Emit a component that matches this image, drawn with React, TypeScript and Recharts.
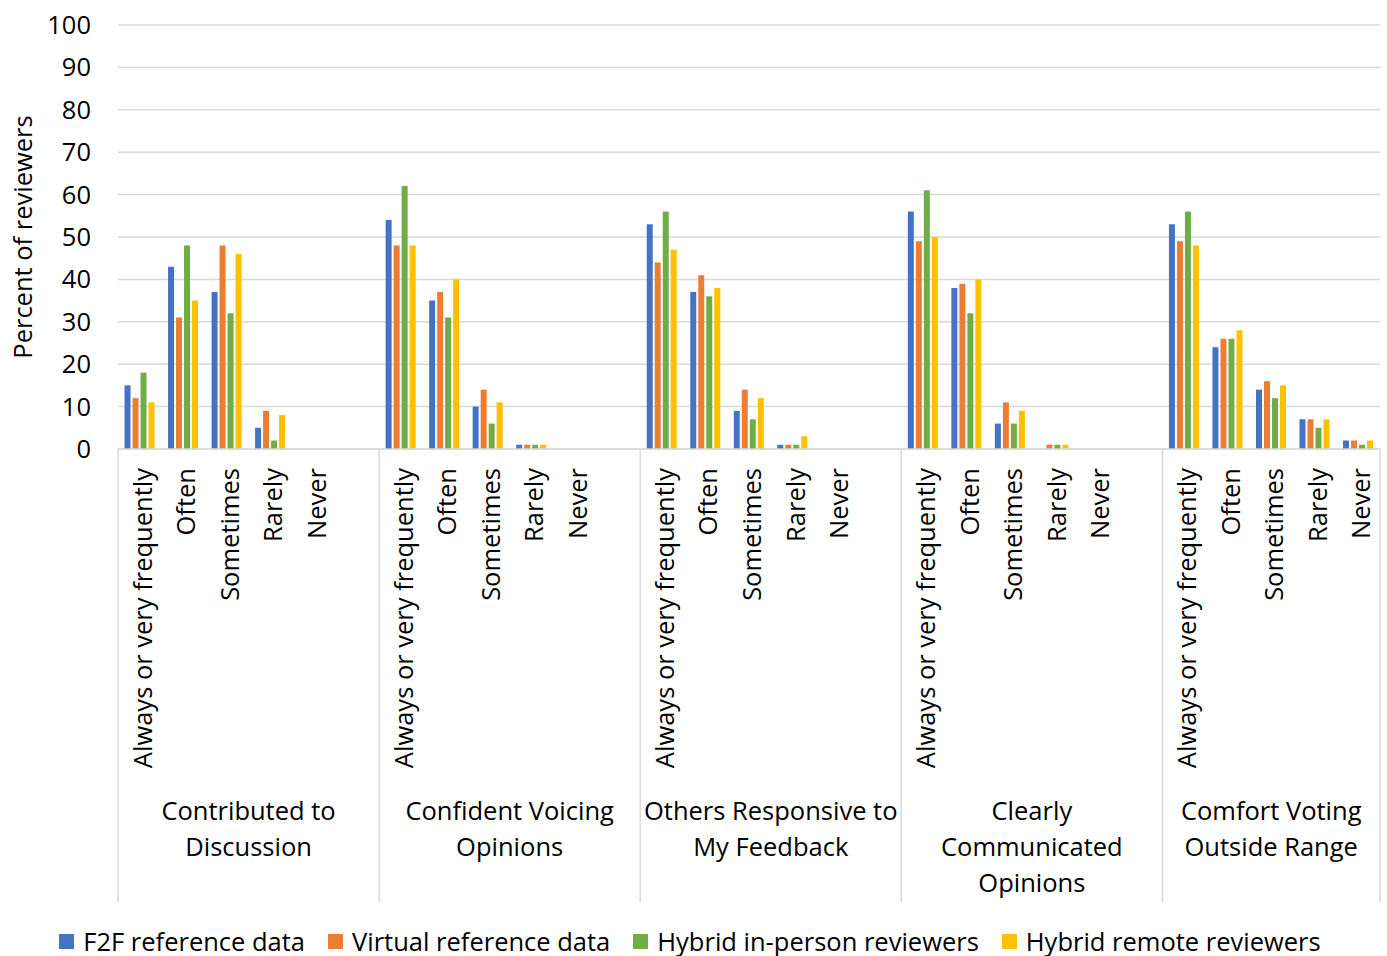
import { Bar, BarChart, CartesianGrid, Legend, XAxis, YAxis } from "recharts";

const GROUPS = [
  ["Contributed to", "Discussion"],
  ["Confident Voicing", "Opinions"],
  ["Others Responsive to", "My Feedback"],
  ["Clearly", "Communicated", "Opinions"],
  ["Comfort Voting", "Outside Range"],
];

const RESPONSES = ["Always or very frequently", "Often", "Sometimes", "Rarely", "Never"];

// one inner array per group, in RESPONSES order
const F2F = [
  [15, 43, 37, 5, 0],
  [54, 35, 10, 1, 0],
  [53, 37, 9, 1, 0],
  [56, 38, 6, 0, 0],
  [53, 24, 14, 7, 2],
];
const VIRTUAL = [
  [12, 31, 48, 9, 0],
  [48, 37, 14, 1, 0],
  [44, 41, 14, 1, 0],
  [49, 39, 11, 1, 0],
  [49, 26, 16, 7, 2],
];
const HYBRID_IN = [
  [18, 48, 32, 2, 0],
  [62, 31, 6, 1, 0],
  [56, 36, 7, 1, 0],
  [61, 32, 6, 1, 0],
  [56, 26, 12, 5, 1],
];
const HYBRID_REMOTE = [
  [11, 35, 46, 8, 0],
  [48, 40, 11, 1, 0],
  [47, 38, 12, 3, 0],
  [50, 40, 9, 1, 0],
  [48, 28, 15, 7, 2],
];

const Y_TICKS = [0, 10, 20, 30, 40, 50, 60, 70, 80, 90, 100];

const SERIES = [
  { key: "f2f", name: "F2F reference data", color: "#4472C4" },
  { key: "virtual", name: "Virtual reference data", color: "#ED7D31" },
  { key: "hybridIn", name: "Hybrid in-person reviewers", color: "#70AD47" },
  { key: "hybridRemote", name: "Hybrid remote reviewers", color: "#FFC000" },
];

interface Row {
  cat: string;
  group: number;
  pos: number;
  f2f?: number;
  virtual?: number;
  hybridIn?: number;
  hybridRemote?: number;
}

// Excel-style multi-level axis: a blank slot closes every group but the last
const rows: Row[] = [];
GROUPS.forEach((_, g) => {
  RESPONSES.forEach((cat, r) => {
    rows.push({
      cat,
      group: g,
      pos: r,
      f2f: F2F[g][r],
      virtual: VIRTUAL[g][r],
      hybridIn: HYBRID_IN[g][r],
      hybridRemote: HYBRID_REMOTE[g][r],
    });
  });
  if (g < GROUPS.length - 1) rows.push({ cat: "", group: g, pos: 5 });
});

const FONT = "'Open Sans', Lato, sans-serif";
const FS = 25.5;
const WIDTH = 1387;
const HEIGHT = 956;
const PLOT_LEFT = 118;
const PLOT_RIGHT = 1380;
const BAND = (PLOT_RIGHT - PLOT_LEFT) / rows.length;
const GRID = "#d9d9d9";

function CategoryTick(props: any) {
  const { x, y, payload } = props;
  const row = rows[payload.index];
  if (!row) return null;
  const left = x - BAND / 2;
  const slots = row.group < GROUPS.length - 1 ? 6 : 5;
  const isLast = payload.index === rows.length - 1;
  return (
    <g>
      {row.cat && (
        <text
          transform={`translate(${x + 2},${y + 19}) rotate(-90)`}
          textAnchor="end"
          dominantBaseline="central"
          fontSize={FS}
          fontFamily={FONT}
          fill="#000"
        >
          {row.cat}
        </text>
      )}
      {row.pos === 0 && (
        <>
          <line x1={left} x2={left} y1={y} y2={y + 453} stroke={GRID} strokeWidth={1.5} />
          <text
            x={left + (slots * BAND) / 2}
            y={y + 371}
            textAnchor="middle"
            fontSize={FS}
            fontFamily={FONT}
            fill="#000"
          >
            {GROUPS[row.group].map((line, i) => (
              <tspan key={i} x={left + (slots * BAND) / 2} dy={i === 0 ? 0 : 36}>
                {line}
              </tspan>
            ))}
          </text>
        </>
      )}
      {isLast && (
        <line x1={x + BAND / 2} x2={x + BAND / 2} y1={y} y2={y + 453} stroke={GRID} strokeWidth={1.5} />
      )}
    </g>
  );
}

function LegendContent() {
  return (
    <div
      style={{
        display: "flex",
        justifyContent: "center",
        gap: 23,
        fontFamily: FONT,
        fontSize: FS,
        color: "#000",
        height: 30,
        alignItems: "center",
      }}
    >
      {SERIES.map((s) => (
        <div key={s.key} style={{ display: "flex", alignItems: "center" }}>
          <span style={{ width: 15, height: 15, background: s.color, marginRight: 9, display: "inline-block" }} />
          <span>{s.name}</span>
        </div>
      ))}
    </div>
  );
}

function YLabel(props: any) {
  const { viewBox } = props;
  const cx = 22;
  const cy = viewBox.y + viewBox.height / 2;
  return (
    <text
      transform={`translate(${cx},${cy}) rotate(-90)`}
      textAnchor="middle"
      dominantBaseline="central"
      fontSize={FS}
      fontFamily={FONT}
      fill="#000"
    >
      Percent of reviewers
    </text>
  );
}

export default function App() {
  return (
    <div style={{ position: "absolute", left: 0, top: 0, background: "#fff" }}>
      <BarChart
        width={WIDTH}
        height={HEIGHT}
        data={rows}
        margin={{ top: 25, right: WIDTH - PLOT_RIGHT, bottom: 0, left: 0 }}
        barCategoryGap="15%"
        barGap={2}
      >
        <CartesianGrid vertical={false} stroke={GRID} strokeWidth={1.5} />
        <XAxis
          dataKey="cat"
          interval={0}
          height={477}
          tickLine={false}
          tickSize={0}
          tickMargin={0}
          axisLine={{ stroke: GRID, strokeWidth: 1.5 }}
          tick={<CategoryTick />}
        />
        <YAxis
          width={PLOT_LEFT}
          domain={[0, 100]}
          ticks={Y_TICKS}
          interval={0}
          axisLine={false}
          tickLine={false}
          tickSize={0}
          tickMargin={27}
          tick={{ fontSize: FS, fontFamily: FONT, fill: "#000" }}
          label={<YLabel />}
        />
        <Legend verticalAlign="bottom" content={<LegendContent />} />
        {SERIES.map((s) => (
          <Bar key={s.key} dataKey={s.key} name={s.name} fill={s.color} isAnimationActive={false} />
        ))}
      </BarChart>
    </div>
  );
}
